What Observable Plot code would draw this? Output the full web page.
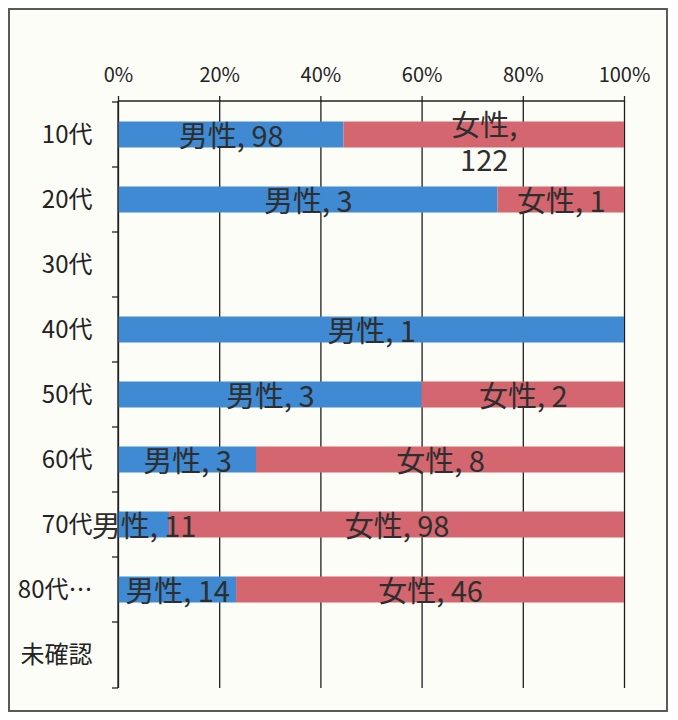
<!DOCTYPE html>
<html>
<head>
<meta charset="utf-8">
<script src="https://cdn.jsdelivr.net/npm/d3@7"></script>
<script src="https://cdn.jsdelivr.net/npm/@observablehq/plot@0.6"></script>
<style>
  html, body { margin: 0; padding: 0; background: #ffffff; }
  #wrap { position: relative; width: 678px; height: 720px; }
  #border { position: absolute; left: 8px; top: 8px; width: 660px; height: 704px; box-sizing: border-box;
            border: 2px solid #5a5a5a; background: #fdfdf8; }
  #chart { position: absolute; left: 0; top: 0; }
</style>
</head>
<body>
<div id="wrap"><div id="border"></div><div id="chart"></div></div>
<script>
const categories = ["10代", "20代", "30代", "40代", "50代", "60代", "70代", "80代…", "未確認"];
const sexes = ["男性", "女性"];
const maleCounts = [98, 3, null, 1, 3, 3, 11, 14, null];
const femaleCounts = [122, 1, null, null, 2, 8, 98, 46, null];
const xTicks = [0, 0.2, 0.4, 0.6, 0.8, 1];
const wrappedLabel = { category: "10代", sex: "女性" };

const rows = categories.flatMap((c, i) => [
  { category: c, sex: sexes[0], value: maleCounts[i] },
  { category: c, sex: sexes[1], value: femaleCounts[i] }
]).filter(d => d.value != null);

const isWrapped = d => d.category === wrappedLabel.category && d.sex === wrappedLabel.sex;
const labelText = d => `${d.sex}, ${d.value}`;
const stackOpts = extra => Plot.stackX({ offset: "normalize", x: "value", y: "category", z: "sex", ...extra });

function axisLines(index, scales, values, dims) {
  const { x, y } = scales;
  const top = dims.marginTop, bottom = dims.height - dims.marginBottom;
  const x0 = x(0), x1 = x(1);
  const g = d3.create("svg:g").attr("stroke", "#222").attr("stroke-width", 1.3).attr("fill", "none");
  g.append("line").attr("x1", x0).attr("x2", x0).attr("y1", top).attr("y2", bottom);
  g.append("line").attr("x1", x0).attr("x2", x1).attr("y1", top).attr("y2", top);
  const bounds = categories.map(c => y(c)).concat([bottom]);
  for (const b of bounds) {
    g.append("line").attr("x1", x0 - 6).attr("x2", x0).attr("y1", b).attr("y2", b);
  }
  return g.node();
}

const chart = Plot.plot({
  width: 678,
  height: 720,
  marginLeft: 118,
  marginRight: 54,
  marginTop: 101,
  marginBottom: 32,
  style: { fontFamily: "'Noto Sans CJK JP', sans-serif", background: "transparent", color: "#222" },
  x: { domain: [0, 1], axis: null, label: null },
  y: { domain: categories, padding: 0, axis: null, label: null },
  color: { domain: sexes, range: ["#3f8ad2", "#d3666f"] },
  marks: [
    Plot.gridX(xTicks, { stroke: "#1e1e1e", strokeOpacity: 1, strokeWidth: 1.3 }),
    Plot.barX(rows, stackOpts({ fill: "sex", insetTop: 19.5, insetBottom: 19.5 })),
    Plot.axisX(xTicks, { anchor: "top", label: null, tickFormat: d3.format(".0%"), tickSize: 6, tickPadding: 14, fontSize: 20, fill: "#222", stroke: "#222", strokeWidth: 1.3 }),
    Plot.axisY({ label: null, tickSize: 0, tickPadding: 26, fontSize: 24, fill: "#222" }),
    axisLines,
    Plot.text(rows, Plot.filter(d => !isWrapped(d), stackOpts({ text: labelText, fontSize: 29, fill: "#2e2e2e", dy: 3 }))),
    Plot.text(rows, Plot.filter(isWrapped, stackOpts({ text: labelText, fontSize: 29, fill: "#2e2e2e", lineWidth: 2.5, lineHeight: 1.22, dy: 7 })))
  ]
});
document.getElementById("chart").appendChild(chart);
</script>
</body>
</html>
